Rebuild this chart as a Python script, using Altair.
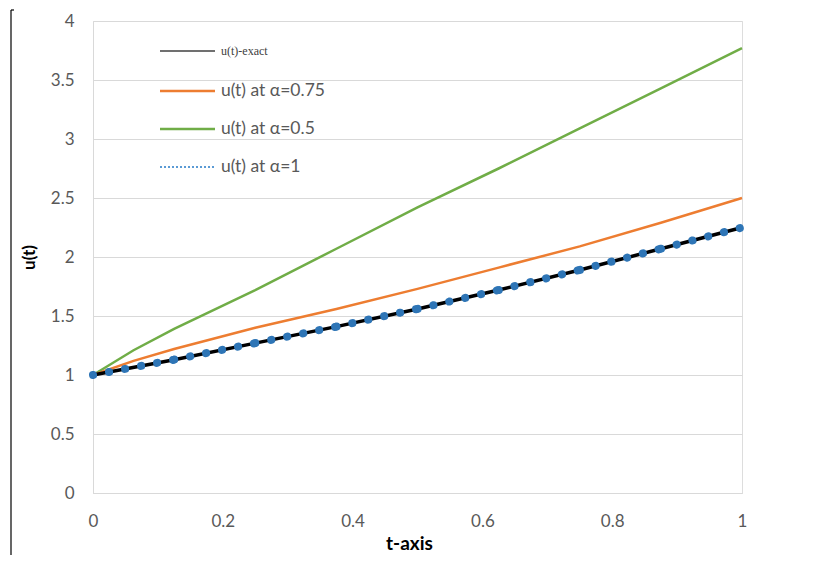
import altair as alt
import pandas as pd

# ---- data ----
t_nodes = [0, 0.125, 0.25, 0.375, 0.5, 0.625, 0.75, 0.875, 1.0]
u_exact = [1.00, 1.13, 1.27, 1.41, 1.56, 1.72, 1.89, 2.07, 2.25]
u_alpha_1 = [1.00, 1.13, 1.27, 1.41, 1.56, 1.72, 1.89, 2.07, 2.25]

t_frac = [0, 0.0625, 0.125, 0.25, 0.375, 0.5, 0.625, 0.75, 0.875, 1.0]
u_alpha_075 = [1.00, 1.12, 1.22, 1.40, 1.56, 1.73, 1.91, 2.09, 2.29, 2.50]
u_alpha_05 = [1.00, 1.21, 1.39, 1.72, 2.07, 2.42, 2.75, 3.09, 3.43, 3.77]

legend_labels = ["u(t)-exact", "u(t) at \u03b1=0.75", "u(t) at \u03b1=0.5", "u(t) at \u03b1=1"]
x_ticks = [0, 0.2, 0.4, 0.6, 0.8, 1]
y_ticks = [0, 0.5, 1, 1.5, 2, 2.5, 3, 3.5, 4]

FONT = "Lato"
LABEL_COLOR = "#595959"
GRID = "#d9d9d9"
ORANGE = "#ED7D31"
GREEN = "#70AD47"
BLUE = "#2E75B6"

df_exact = pd.DataFrame({"t": t_nodes, "u": u_exact})
df_075 = pd.DataFrame({"t": t_frac, "u": u_alpha_075})
df_05 = pd.DataFrame({"t": t_frac, "u": u_alpha_05})

# dotted series drawn segment by segment (dash pattern restarts at each node)
seg_rows = []
for i in range(len(t_nodes) - 1):
    seg_rows.append({"seg": i, "t": t_nodes[i], "u": u_alpha_1[i]})
    seg_rows.append({"seg": i, "t": t_nodes[i + 1], "u": u_alpha_1[i + 1]})
df_a1 = pd.DataFrame(seg_rows)

x_enc = alt.X(
    "t:Q",
    scale=alt.Scale(domain=[0, 1], nice=False),
    axis=alt.Axis(
        title="t-axis", values=x_ticks, labelExpr="format(datum.value, '~g')",
        grid=False, ticks=False, domainColor=GRID, domainWidth=1, labelFlush=False,
        labelFont=FONT, labelFontSize=17, labelColor=LABEL_COLOR, labelPadding=20,
        titleFont=FONT, titleFontSize=19, titleFontWeight="bold", titleColor="black",
        titlePadding=5, titleX=316,
    ),
)
y_enc = alt.Y(
    "u:Q",
    scale=alt.Scale(domain=[0, 4], nice=False),
    axis=alt.Axis(
        title="u(t)", values=y_ticks, labelExpr="format(datum.value, '~g')",
        grid=True, gridColor=GRID, gridWidth=1, ticks=False,
        domainColor=GRID, domainWidth=1,
        labelFont=FONT, labelFontSize=17, labelColor=LABEL_COLOR, labelPadding=19,
        titleFont=FONT, titleFontSize=17, titleFontWeight="bold", titleColor="black",
        titlePadding=12,
    ),
)

green = alt.Chart(df_05).mark_line(color=GREEN, strokeWidth=2.5).encode(x=x_enc, y=y_enc)
orange = alt.Chart(df_075).mark_line(color=ORANGE, strokeWidth=2.5).encode(x="t:Q", y="u:Q")
exact = alt.Chart(df_exact).mark_line(color="black", strokeWidth=3.5).encode(x="t:Q", y="u:Q")
alpha1 = alt.Chart(df_a1).mark_line(
    color=BLUE, strokeWidth=8, strokeDash=[0.1, 16.2], strokeCap="round"
).encode(x="t:Q", y="u:Q", detail="seg:N")

one = pd.DataFrame({"k": [0]})
leg_y = [30, 70, 108, 146]
leg_styles = [
    dict(color="#404040", strokeWidth=1.5),
    dict(color=ORANGE, strokeWidth=2.5),
    dict(color=GREEN, strokeWidth=2.5),
    dict(color="#5B9BD5", strokeWidth=2, strokeDash=[2, 2]),
]
legend_layers = []
for i, lab in enumerate(legend_labels):
    legend_layers.append(
        alt.Chart(one).mark_rule(**leg_styles[i]).encode(
            x=alt.value(67), x2=alt.value(122), y=alt.value(leg_y[i])
        )
    )
    if i == 0:
        txt = alt.Chart(one).mark_text(
            align="left", baseline="middle", font="Liberation Serif", fontSize=12,
            color="#404040",
        )
    else:
        txt = alt.Chart(one).mark_text(
            align="left", baseline="middle", font=FONT, fontSize=17.5, color=LABEL_COLOR,
        )
    legend_layers.append(
        txt.encode(x=alt.value(128), y=alt.value(leg_y[i]), text=alt.value(lab))
    )

bracket = alt.Chart(one).mark_rule(color="black", strokeWidth=1.2).encode(
    x=alt.value(-82), y=alt.value(-11), y2=alt.value(540)
)
bracket_top = alt.Chart(one).mark_rule(color="black", strokeWidth=1.2).encode(
    x=alt.value(-82), x2=alt.value(-79), y=alt.value(-11)
)

chart = alt.layer(
    green, orange, exact, alpha1, *legend_layers, bracket, bracket_top
).properties(
    width=649, height=472,
    autosize=alt.AutoSizeParams(type="none"),
    padding={"left": 85, "top": 13, "right": 90, "bottom": 62},
).configure_view(stroke=None).configure(background="white")

chart.save("out.html", embed_options={"renderer": "svg", "actions": False})
